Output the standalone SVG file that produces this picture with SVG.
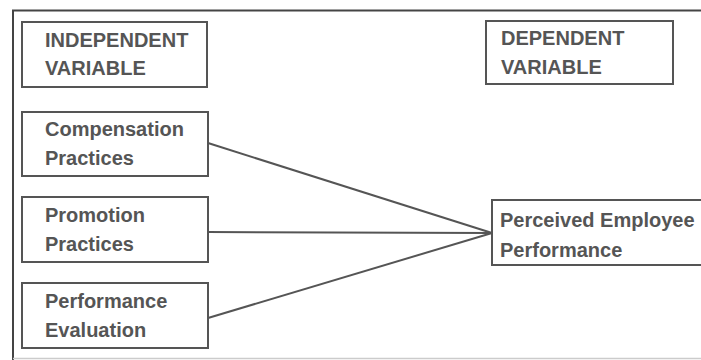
<svg xmlns="http://www.w3.org/2000/svg" width="701" height="360" viewBox="0 0 701 360">
<style>
.box{fill:#fff;stroke:#555;stroke-width:2}
.t{font-family:"Liberation Sans",Arial,sans-serif;font-weight:bold;font-size:20px;fill:#555}
.c{stroke:#555;stroke-width:2;fill:none}
</style>
<rect x="0" y="0" width="701" height="360" fill="#fff"/>
<g id="frame">
<path d="M13 360 V10.5 H701" fill="none" stroke="#444" stroke-width="2"/>
<line x1="13" y1="358.5" x2="701" y2="358.5" stroke="#ccc" stroke-width="1.5"/>
</g>
<g id="connectors">
<line class="c" x1="208" y1="143" x2="492" y2="233"/>
<line class="c" x1="208" y1="232" x2="492" y2="233"/>
<line class="c" x1="208" y1="318" x2="492" y2="233"/>
</g>
<g id="independent">
<rect class="box" x="22" y="22" width="185" height="65"/>
<text class="t" x="45" y="47">INDEPENDENT</text>
<text class="t" x="45" y="75">VARIABLE</text>
</g>
<g id="dependent">
<rect class="box" x="486" y="21" width="187" height="63"/>
<text class="t" x="501" y="45">DEPENDENT</text>
<text class="t" x="501" y="74">VARIABLE</text>
</g>
<g id="compensation">
<rect class="box" x="22" y="112" width="186" height="64"/>
<text class="t" x="45" y="136">Compensation</text>
<text class="t" x="45" y="165">Practices</text>
</g>
<g id="promotion">
<rect class="box" x="22" y="197" width="186" height="65"/>
<text class="t" x="45" y="222">Promotion</text>
<text class="t" x="45" y="251">Practices</text>
</g>
<g id="evaluation">
<rect class="box" x="22" y="283" width="186" height="65"/>
<text class="t" x="45" y="308">Performance</text>
<text class="t" x="45" y="337">Evaluation</text>
</g>
<g id="performance">
<rect class="box" x="492" y="200" width="212" height="65"/>
<text class="t" x="500" y="227">Perceived Employee</text>
<text class="t" x="500" y="257">Performance</text>
</g>
</svg>
